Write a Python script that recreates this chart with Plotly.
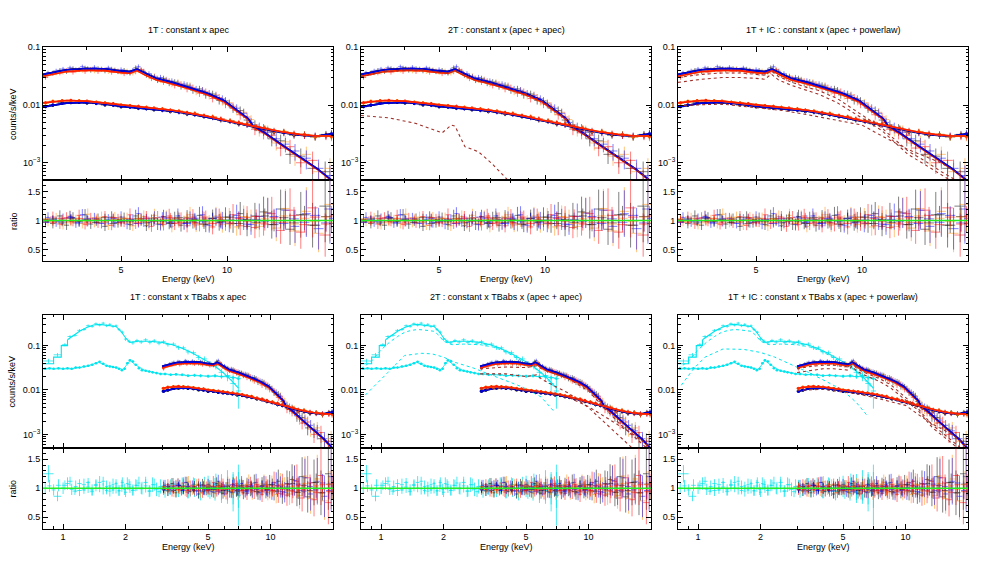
import math
import plotly.graph_objects as go

# ---------------- data ----------------
# NuSTAR-like upper spectrum, two binnings
EA = [3.05, 3.2, 3.35, 3.5, 3.65, 3.8, 3.95, 4.1, 4.3, 4.5, 4.7, 4.9, 5.1, 5.3, 5.5, 5.7, 5.9, 6.1, 6.35, 6.6,
      6.85, 7.1, 7.4, 7.7, 8.0, 8.35, 8.7, 9.1, 9.5, 9.9, 10.4, 10.9, 11.4, 12.0, 12.7, 13.4, 14.2, 15.1, 16.2, 17.5, 19.0]
EB = [3.1, 3.27, 3.42, 3.58, 3.72, 3.88, 4.02, 4.2, 4.4, 4.6, 4.8, 5.0, 5.2, 5.4, 5.6, 5.8, 6.0, 6.22, 6.47, 6.72,
      6.97, 7.25, 7.55, 7.85, 8.17, 8.52, 8.9, 9.3, 9.7, 10.15, 10.65, 11.15, 11.7, 12.35, 13.05, 13.8, 14.65, 15.6, 16.8, 18.2, 19.6]
XW_UP = [0.05, 0.06, 0.06, 0.06, 0.06, 0.06, 0.06, 0.07, 0.08, 0.08, 0.08, 0.08, 0.08, 0.08, 0.08, 0.08, 0.08, 0.09, 0.1, 0.1,
         0.1, 0.12, 0.12, 0.12, 0.14, 0.15, 0.16, 0.17, 0.18, 0.2, 0.22, 0.24, 0.25, 0.3, 0.32, 0.35, 0.4, 0.45, 0.5, 0.6, 0.7]
FRAC_UP = [0.09, 0.09, 0.09, 0.09, 0.09, 0.09, 0.09, 0.09, 0.09, 0.09, 0.095, 0.095, 0.095, 0.1, 0.1, 0.1, 0.1, 0.105, 0.11, 0.11,
           0.115, 0.12, 0.12, 0.125, 0.13, 0.135, 0.14, 0.145, 0.15, 0.16, 0.17, 0.18, 0.19, 0.21, 0.23, 0.26, 0.28, 0.32, 0.36, 0.42, 0.5]
UP_BLACK = [0.032, 0.036, 0.040, 0.038, 0.043, 0.041, 0.044, 0.040, 0.043, 0.039, 0.042, 0.038, 0.040, 0.036, 0.044, 0.040, 0.033, 0.032, 0.027, 0.029,
            0.024, 0.025, 0.021, 0.022, 0.018, 0.019, 0.015, 0.0155, 0.012, 0.0118, 0.0088, 0.0080, 0.0055, 0.0045, 0.0038, 0.0026, 0.0024, 0.0014, 0.0013, 0.0008, 0.0007]
UP_RED = [0.030, 0.035, 0.036, 0.040, 0.037, 0.041, 0.038, 0.042, 0.038, 0.041, 0.037, 0.039, 0.035, 0.037, 0.038, 0.041, 0.034, 0.029, 0.029, 0.025,
          0.026, 0.022, 0.023, 0.019, 0.020, 0.016, 0.017, 0.013, 0.0135, 0.0105, 0.0095, 0.0068, 0.0062, 0.0038, 0.0033, 0.0030, 0.0018, 0.0019, 0.0010, 0.0011, 0.0005]
UP_BLUE = [0.036, 0.039, 0.042, 0.044, 0.041, 0.046, 0.043, 0.045, 0.041, 0.044, 0.040, 0.041, 0.037, 0.040, 0.046, 0.038, 0.035, 0.031, 0.030, 0.027,
           0.026, 0.024, 0.023, 0.021, 0.019, 0.018, 0.016, 0.0145, 0.0128, 0.0105, 0.0088, 0.0072, 0.0050, 0.0041, 0.0034, 0.0026, 0.0021, 0.0016, 0.0012, 0.0008, 0.0006]
UP_ORANGE = [0.033, 0.036, 0.037, 0.041, 0.039, 0.040, 0.042, 0.039, 0.043, 0.038, 0.041, 0.037, 0.039, 0.036, 0.040, 0.039, 0.031, 0.032, 0.027, 0.028,
             0.023, 0.025, 0.021, 0.022, 0.017, 0.018, 0.0145, 0.015, 0.0115, 0.011, 0.0080, 0.0075, 0.0056, 0.0036, 0.0036, 0.0022, 0.0023, 0.0013, 0.0014, 0.0007, 0.0008]
R_UP_BLACK = [1.02, 0.95, 1.08, 0.92, 1.05, 0.98, 1.10, 0.94, 1.03, 0.90, 1.06, 0.97, 1.04, 0.93, 1.08, 1.01, 0.91, 1.00, 0.94, 1.07,
              0.96, 1.03, 0.92, 1.05, 0.99, 1.09, 0.93, 1.04, 0.97, 1.06, 0.95, 1.12, 0.90, 1.08, 1.15, 0.93, 1.20, 0.85, 1.10, 0.92, 1.25]
R_UP_RED = [0.97, 1.06, 0.94, 1.05, 0.99, 1.09, 0.93, 1.04, 0.96, 1.07, 0.92, 1.02, 0.98, 1.10, 0.95, 1.03, 1.06, 0.90, 1.05, 0.93,
            1.08, 0.95, 1.02, 0.91, 1.06, 0.94, 1.03, 0.89, 1.05, 0.98, 1.10, 0.91, 1.05, 0.88, 0.96, 1.12, 0.83, 1.18, 0.80, 1.22, 0.75]
R_UP_BLUE = [1.05, 0.98, 1.03, 1.07, 0.96, 1.10, 0.99, 1.04, 0.95, 1.02, 0.97, 1.06, 0.94, 1.01, 1.12, 0.99, 0.97, 1.05, 0.93, 1.04,
             0.98, 1.08, 0.95, 1.03, 0.96, 1.10, 0.92, 1.06, 1.00, 0.95, 1.09, 1.02, 0.93, 1.07, 1.13, 0.96, 1.18, 0.90, 1.12, 0.86, 1.20]
R_UP_ORANGE = [0.99, 1.04, 0.93, 1.08, 1.01, 0.95, 1.11, 0.97, 1.06, 0.92, 1.05, 0.98, 1.04, 0.91, 1.02, 1.07, 0.94, 1.09, 0.95, 1.06,
               0.90, 1.04, 0.97, 1.10, 0.92, 1.03, 0.96, 1.08, 0.93, 1.05, 0.89, 1.07, 1.00, 0.90, 1.14, 0.87, 1.21, 0.82, 1.16, 0.78, 1.28]

# lower (background-like) spectrum
ELO = [3.05, 3.2, 3.4, 3.6, 3.8, 4.0, 4.25, 4.5, 4.75, 5.0, 5.3, 5.6, 5.9, 6.2, 6.55, 6.9, 7.3, 7.7, 8.1, 8.6,
       9.1, 9.6, 10.2, 10.8, 11.4, 12.1, 12.8, 13.6, 14.5, 15.5, 16.6, 17.8, 19.1, 19.8]
XW_LO = [0.07, 0.08, 0.1, 0.1, 0.1, 0.1, 0.12, 0.12, 0.12, 0.13, 0.15, 0.15, 0.15, 0.16, 0.17, 0.18, 0.2, 0.2, 0.2, 0.25,
         0.25, 0.25, 0.3, 0.3, 0.3, 0.35, 0.35, 0.4, 0.45, 0.5, 0.55, 0.6, 0.6, 0.3]
FRAC_LO = [0.06, 0.06, 0.06, 0.06, 0.06, 0.065, 0.065, 0.065, 0.07, 0.07, 0.07, 0.075, 0.075, 0.08, 0.08, 0.08, 0.085, 0.085, 0.09, 0.09,
           0.095, 0.1, 0.1, 0.105, 0.11, 0.115, 0.12, 0.125, 0.13, 0.135, 0.14, 0.145, 0.15, 0.16]
LO_RED = [0.0110, 0.0115, 0.0119, 0.0121, 0.0118, 0.0117, 0.0112, 0.0108, 0.0106, 0.0099, 0.0097, 0.0095, 0.0091, 0.0089, 0.0085, 0.0082, 0.0078, 0.0074, 0.0071, 0.0066,
          0.0062, 0.0058, 0.0053, 0.0050, 0.0046, 0.0042, 0.0039, 0.0036, 0.0034, 0.0032, 0.0030, 0.0029, 0.0029, 0.0029]
LO_ORANGE = [0.0108, 0.0117, 0.0120, 0.0119, 0.0120, 0.0115, 0.0113, 0.0110, 0.0104, 0.0101, 0.0098, 0.0093, 0.0092, 0.0087, 0.0086, 0.0080, 0.0079, 0.0073, 0.0072, 0.0065,
             0.0063, 0.0057, 0.0054, 0.0049, 0.0047, 0.0041, 0.0040, 0.0035, 0.0035, 0.0031, 0.0031, 0.0028, 0.0030, 0.0028]
LO_BLUE = [0.0093, 0.0101, 0.0108, 0.0112, 0.0111, 0.0110, 0.0106, 0.0102, 0.0099, 0.0094, 0.0092, 0.0089, 0.0086, 0.0084, 0.0081, 0.0078, 0.0075, 0.0071, 0.0068, 0.0064,
           0.0060, 0.0056, 0.0052, 0.0048, 0.0045, 0.0041, 0.0038, 0.0035, 0.0033, 0.0031, 0.0030, 0.0029, 0.0030, 0.0032]
LO_BLACK = [0.0095, 0.0099, 0.0110, 0.0110, 0.0113, 0.0108, 0.0107, 0.0100, 0.0100, 0.0093, 0.0093, 0.0088, 0.0087, 0.0083, 0.0082, 0.0077, 0.0076, 0.0070, 0.0069, 0.0063,
            0.0061, 0.0055, 0.0053, 0.0047, 0.0046, 0.0040, 0.0039, 0.0034, 0.0034, 0.0030, 0.0031, 0.0028, 0.0031, 0.0031]
R_LO_BLACK = [0.98, 1.03, 0.96, 1.04, 0.99, 1.02, 0.97, 1.05, 0.95, 1.01, 0.98, 1.04, 0.96, 1.03, 0.99, 0.95, 1.05, 0.97, 1.02, 0.94,
              1.04, 0.98, 1.06, 0.95, 1.02, 0.97, 1.08, 0.93, 1.05, 0.96, 1.10, 0.92, 1.07, 0.95]
R_LO_RED = [1.02, 0.97, 1.04, 0.98, 1.03, 0.96, 1.02, 0.99, 1.05, 0.96, 1.03, 0.97, 1.04, 0.98, 1.01, 1.05, 0.96, 1.03, 0.97, 1.06,
            0.95, 1.02, 0.96, 1.04, 0.98, 1.07, 0.94, 1.05, 0.97, 1.09, 0.93, 1.06, 0.94, 1.08]
R_LO_BLUE = [0.97, 1.02, 0.99, 1.05, 0.96, 1.03, 1.00, 0.96, 1.04, 0.98, 1.02, 0.95, 1.03, 0.99, 1.06, 0.97, 1.01, 0.95, 1.04, 0.98,
             1.03, 0.96, 1.01, 1.05, 0.94, 1.02, 0.99, 1.07, 0.95, 1.03, 0.97, 1.09, 0.96, 1.04]
R_LO_ORANGE = [1.03, 0.98, 1.01, 0.96, 1.04, 0.99, 1.05, 0.97, 1.02, 1.04, 0.96, 1.03, 0.98, 1.05, 0.96, 1.02, 0.99, 1.06, 0.95, 1.01,
               0.98, 1.05, 0.94, 1.00, 1.06, 0.95, 1.03, 0.97, 1.08, 0.94, 1.04, 0.98, 1.06, 0.97]

# folded models
EM = [3.0, 3.2, 3.5, 4.0, 4.5, 5.0, 5.3, 5.55, 5.8, 6.3, 7.0, 7.8, 8.8, 9.8, 10.4, 11.1, 11.5, 11.85, 12.9, 14.4, 16.1, 18.0, 20.0]
UP_MODEL_B = [0.034, 0.037, 0.041, 0.043, 0.0425, 0.039, 0.038, 0.042, 0.0365, 0.029, 0.0247, 0.0203, 0.016, 0.012, 0.0092, 0.0069,
              0.0058, 0.0044, 0.0032, 0.0020, 0.00127, 0.0008, 0.00048]
UP_MODEL_R = [0.0315, 0.0345, 0.038, 0.040, 0.0395, 0.0365, 0.0355, 0.0395, 0.034, 0.0272, 0.0232, 0.0191, 0.0151, 0.0114, 0.0088, 0.0066,
              0.0056, 0.0042, 0.0031, 0.00195, 0.00124, 0.00078, 0.00047]
LO_MODEL_R = [0.0109, 0.0114, 0.0120, 0.0117, 0.0109, 0.0100, 0.0097, 0.0095, 0.0092, 0.0087, 0.0081, 0.0073, 0.0064, 0.0055, 0.0051, 0.0047,
              0.0045, 0.0043, 0.0038, 0.0034, 0.0031, 0.0029, 0.0029]
LO_MODEL_B = [0.0093, 0.0099, 0.0108, 0.0111, 0.0104, 0.0095, 0.0092, 0.0090, 0.0088, 0.0083, 0.0078, 0.0071, 0.0062, 0.0054, 0.0050, 0.0046,
              0.0044, 0.0042, 0.0037, 0.0033, 0.0030, 0.0029, 0.0032]

# model components (dotted)
T2_HOT = [0.031, 0.034, 0.038, 0.040, 0.040, 0.037, 0.036, 0.039, 0.0345, 0.0275, 0.0238, 0.0197, 0.0157, 0.0118, 0.0091, 0.0068,
          0.0057, 0.0044, 0.0032, 0.0020, 0.00127, 0.0008, 0.00048]
T2_COOL_E = [3.0, 3.6, 4.3, 5.1, 5.42, 5.55, 5.92, 6.46, 7.05, 7.85, 8.5]
T2_COOL = [0.0066, 0.0060, 0.0048, 0.0033, 0.0045, 0.0043, 0.0019, 0.00156, 0.00098, 0.0005, 0.0003]
P3_E = [3.0, 3.5, 4.0, 4.5, 5.0, 5.3, 5.52, 5.8, 6.3, 7.0, 7.5, 8.5, 10.0, 11.4, 12.0, 13.5, 15.0, 16.8, 18.5, 20.0]
P3_A1 = [0.030, 0.034, 0.036, 0.036, 0.034, 0.033, 0.039, 0.031, 0.025, 0.020, 0.018, 0.013, 0.0067, 0.0040, 0.0030, 0.0016, 0.0011, 0.0007, 0.0005, 0.00036]
P3_A2 = [0.0247, 0.028, 0.030, 0.030, 0.029, 0.028, 0.0344, 0.027, 0.022, 0.0175, 0.0155, 0.011, 0.0059, 0.0036, 0.0027, 0.0014, 0.00095, 0.00062, 0.00044, 0.00032]
P3_L_E = [3.0, 4.0, 5.0, 6.0, 7.0, 8.0, 9.0, 10.0, 11.4, 13.5, 16.8, 19.6]
P3_L = [0.0098, 0.0104, 0.0090, 0.0080, 0.0068, 0.0058, 0.0050, 0.0045, 0.0029, 0.0017, 0.00099, 0.00055]
B2_E = [3.0, 4.0, 5.0, 5.6, 6.0, 7.0, 8.0, 10.0, 12.0, 14.0, 17.0, 20.0]
B2_D1 = [0.030, 0.033, 0.032, 0.035, 0.029, 0.023, 0.018, 0.0095, 0.0038, 0.0018, 0.0008, 0.0004]
B2_D2 = [0.023, 0.023, 0.020, 0.022, 0.017, 0.012, 0.0085, 0.0040, 0.0018, 0.0009, 0.0004, 0.0002]
B2_D3 = [0.0105, 0.0110, 0.0097, 0.0092, 0.0088, 0.0080, 0.0068, 0.0042, 0.0025, 0.0016, 0.0009, 0.0005]

# soft-band (cyan) instrument
EC_M = [0.80, 0.90, 0.98, 1.05, 1.12, 1.2, 1.3, 1.4, 1.5, 1.6, 1.7, 1.8, 1.9, 2.0, 2.1, 2.3, 2.6, 3.0, 3.4, 3.8,
        4.2, 4.6, 5.0, 5.5, 6.0, 6.5, 7.0]
C1_MODEL = [0.039, 0.055, 0.10, 0.135, 0.167, 0.21, 0.256, 0.29, 0.30, 0.29, 0.285, 0.27, 0.21, 0.15, 0.118, 0.125, 0.125, 0.118, 0.103, 0.085,
            0.068, 0.054, 0.043, 0.032, 0.023, 0.016, 0.011]
EC1 = [0.85, 0.94, 1.02, 1.08, 1.14, 1.2, 1.26, 1.32, 1.38, 1.44, 1.5, 1.56, 1.62, 1.68, 1.74, 1.8, 1.86, 1.93, 2.0, 2.08,
       2.17, 2.27, 2.38, 2.5, 2.62, 2.75, 2.9, 3.05, 3.2, 3.4, 3.6, 3.8, 4.0, 4.25, 4.5, 4.8, 5.1, 5.45, 5.8, 6.2, 6.6, 7.0]
C1_DATA = [0.045, 0.062, 0.105, 0.16, 0.17, 0.22, 0.23, 0.28, 0.27, 0.31, 0.29, 0.32, 0.28, 0.30, 0.27, 0.28, 0.23, 0.20, 0.14, 0.125,
           0.115, 0.13, 0.12, 0.135, 0.118, 0.128, 0.113, 0.122, 0.105, 0.108, 0.09, 0.089, 0.072, 0.069, 0.054, 0.050, 0.039, 0.035, 0.025, 0.021, 0.014, 0.0095]
XW_C1 = [0.05, 0.04, 0.03, 0.03, 0.03, 0.03, 0.03, 0.03, 0.03, 0.03, 0.03, 0.03, 0.03, 0.03, 0.03, 0.03, 0.03, 0.035, 0.035, 0.04,
         0.045, 0.05, 0.055, 0.06, 0.06, 0.065, 0.07, 0.075, 0.08, 0.1, 0.1, 0.1, 0.1, 0.12, 0.12, 0.15, 0.15, 0.17, 0.18, 0.2, 0.2, 0.2]
FRAC_C1 = [0.12, 0.1, 0.08, 0.07, 0.07, 0.07, 0.07, 0.07, 0.07, 0.07, 0.07, 0.07, 0.07, 0.07, 0.07, 0.07, 0.08, 0.08, 0.09, 0.09,
           0.09, 0.09, 0.09, 0.09, 0.1, 0.1, 0.1, 0.1, 0.1, 0.1, 0.11, 0.11, 0.12, 0.12, 0.13, 0.14, 0.15, 0.17, 0.2, 0.25, 0.35, 0.6]
R_C1 = [1.25, 0.86, 1.05, 1.12, 0.95, 1.08, 0.97, 1.10, 0.94, 1.06, 1.00, 1.12, 0.96, 1.04, 0.97, 1.08, 0.95, 1.10, 0.93, 1.06,
        0.96, 1.05, 0.99, 1.10, 0.95, 1.06, 0.94, 1.04, 0.96, 1.07, 0.95, 1.04, 0.94, 1.06, 0.95, 1.05, 0.96, 1.07, 0.93, 1.05, 0.92, 0.88]
EC2 = [0.82, 0.86, 0.9, 0.95, 1.0, 1.05, 1.1, 1.15, 1.2, 1.26, 1.32, 1.38, 1.44, 1.5, 1.56, 1.62, 1.68, 1.74, 1.8, 1.86,
       1.92, 1.98, 2.04, 2.1, 2.17, 2.24, 2.32, 2.4, 2.5, 2.6, 2.7, 2.82, 2.95, 3.1, 3.3, 3.5, 3.75, 4.0, 4.3, 4.6,
       5.0, 5.4, 5.8, 6.2, 6.6, 7.0]
C2_DATA = [0.030, 0.031, 0.030, 0.031, 0.030, 0.031, 0.030, 0.032, 0.032, 0.034, 0.035, 0.037, 0.040, 0.043, 0.039, 0.035, 0.034, 0.033, 0.032, 0.030,
           0.028, 0.030, 0.040, 0.047, 0.044, 0.037, 0.031, 0.028, 0.027, 0.026, 0.025, 0.024, 0.023, 0.023, 0.022, 0.0225, 0.022, 0.021, 0.0215, 0.021,
           0.0205, 0.021, 0.020, 0.0205, 0.019, 0.018]
XW_C2 = [0.02, 0.02, 0.02, 0.025, 0.025, 0.025, 0.025, 0.025, 0.03, 0.03, 0.03, 0.03, 0.03, 0.03, 0.03, 0.03, 0.03, 0.03, 0.03, 0.03,
         0.03, 0.03, 0.03, 0.035, 0.035, 0.035, 0.04, 0.045, 0.05, 0.05, 0.05, 0.06, 0.065, 0.08, 0.1, 0.1, 0.12, 0.13, 0.15, 0.15,
         0.2, 0.2, 0.2, 0.2, 0.2, 0.2]
FRAC_C2 = [0.05, 0.05, 0.05, 0.05, 0.05, 0.05, 0.05, 0.05, 0.05, 0.05, 0.05, 0.05, 0.05, 0.05, 0.05, 0.05, 0.05, 0.05, 0.05, 0.05,
           0.05, 0.05, 0.05, 0.05, 0.05, 0.05, 0.05, 0.055, 0.055, 0.055, 0.06, 0.06, 0.06, 0.065, 0.065, 0.07, 0.07, 0.075, 0.08, 0.085,
           0.09, 0.1, 0.11, 0.12, 0.14, 0.16]
R_C2 = [1.00, 1.04, 0.97, 1.05, 1.00, 1.08, 0.98, 1.03, 0.96, 1.06, 1.02, 0.97, 1.05, 1.10, 0.99, 1.03, 0.95, 1.06, 1.01, 0.96,
        1.04, 0.98, 1.08, 1.02, 0.97, 1.05, 1.09, 1.00, 1.04, 0.95, 1.06, 0.98, 1.03, 0.96, 1.02, 0.99, 1.04, 0.97, 1.01, 0.95,
        1.03, 0.98, 1.02, 0.96, 1.00, 0.97]
EC2_M = [0.8, 1.1, 1.3, 1.48, 1.6, 1.8, 1.95, 2.1, 2.25, 2.5, 3.0, 4.0, 5.0, 6.0, 7.0]
C2_MODEL = [0.030, 0.030, 0.034, 0.042, 0.036, 0.032, 0.029, 0.046, 0.036, 0.027, 0.023, 0.0213, 0.0205, 0.020, 0.0185]
CH_E = [0.8, 0.9, 1.0, 1.1, 1.2, 1.3, 1.4, 1.5, 1.6, 1.7, 1.8, 1.9, 2.0, 2.2, 2.5, 3.0, 3.5, 4.0, 4.5, 5.0, 5.5, 6.0, 6.5, 7.0]
CH_VAL = [0.03, 0.045, 0.08, 0.12, 0.16, 0.2, 0.22, 0.23, 0.225, 0.22, 0.21, 0.17, 0.125, 0.105, 0.108, 0.105, 0.092, 0.072, 0.053, 0.040,
          0.031, 0.022, 0.015, 0.0105]
B2_CC_E = [0.84, 0.95, 1.08, 1.3, 1.57, 1.76, 2.0, 2.27, 2.8, 3.29, 4.0, 4.77, 5.9, 6.85]
B2_CC = [0.0077, 0.014, 0.025, 0.06, 0.067, 0.065, 0.055, 0.042, 0.031, 0.023, 0.016, 0.0118, 0.007, 0.0032]
B3_CP_E = [0.83, 0.95, 1.08, 1.32, 1.66, 2.0, 2.34, 2.8, 3.4, 4.1, 4.95, 5.8, 6.6]
B3_CP = [0.0128, 0.03, 0.055, 0.084, 0.082, 0.07, 0.055, 0.038, 0.025, 0.016, 0.01, 0.0052, 0.0025]

TITLES = ["1T : constant x apec", "2T : constant x (apec + apec)", "1T + IC : constant x (apec + powerlaw)",
          "1T : constant x TBabs x apec", "2T : constant x TBabs x (apec + apec)", "1T + IC : constant x TBabs x (apec + powerlaw)"]

# ---------------- figure ----------------
W, H = 981, 566
COLX = [(43, 333), (361, 651), (678, 968)]
ROWY = [((42.7, 176.7), (176.7, 258.3)), ((312.3, 446.7), (446.7, 528.3))]
ERRC = dict(black='rgba(0,0,0,0.5)', red='rgba(255,0,0,0.5)', blue='rgba(0,0,255,0.5)',
            orange='rgba(255,140,0,0.5)', cyan='rgba(0,225,235,0.7)')
SOLID = dict(black='#000000', red='#ff1a00', blue='#0000e0', orange='#ff8c00', cyan='#00e5ee')
DOT = '#a0302a'

fig = go.Figure()


def names(n):
    return ('x' if n == 1 else 'x%d' % n), ('y' if n == 1 else 'y%d' % n)


def add_err(n, E, V, XW, FR, c, msize=None):
    xa, ya = names(n)
    if msize:
        mk = dict(size=msize, color=SOLID[c], line=dict(width=0))
    else:
        mk = dict(size=1, color='rgba(0,0,0,0)', line=dict(width=0))
    fig.add_trace(go.Scatter(
        x=E, y=V, xaxis=xa, yaxis=ya, mode='markers', marker=mk,
        error_x=dict(type='data', array=XW, color=ERRC[c], thickness=1, width=0),
        error_y=dict(type='data', array=[v * f for v, f in zip(V, FR)], color=ERRC[c], thickness=1, width=0),
        showlegend=False, hoverinfo='skip'))


def add_line(n, E, V, c, width=1.6, dash='solid', shape='linear'):
    xa, ya = names(n)
    fig.add_trace(go.Scatter(x=E, y=V, xaxis=xa, yaxis=ya, mode='lines',
                             line=dict(color=c, width=width, dash=dash, shape=shape),
                             showlegend=False, hoverinfo='skip'))


for p in range(6):
    top = p < 3
    ns, nr = 2 * p + 1, 2 * p + 2
    if not top:
        add_err(ns, EC1, C1_DATA, XW_C1, FRAC_C1, 'cyan')
        # coarse low-energy bins drawn as steps, the rest as a smooth curve
        add_line(ns, EC_M[:4], C1_MODEL[:4], SOLID['cyan'], width=1.1, shape='hv')
        add_line(ns, EC_M[3:], C1_MODEL[3:], SOLID['cyan'], width=1.1)
        add_err(ns, EC2, C2_DATA, XW_C2, FRAC_C2, 'cyan', msize=2.5)
        add_line(ns, EC2_M, C2_MODEL, SOLID['cyan'], width=0.8)
        if p == 4:
            add_line(ns, CH_E, CH_VAL, SOLID['cyan'], width=1, dash='dot')
            add_line(ns, B2_CC_E, B2_CC, SOLID['cyan'], width=1, dash='dot')
        if p == 5:
            add_line(ns, CH_E, CH_VAL, SOLID['cyan'], width=1, dash='dot')
            add_line(ns, B3_CP_E, B3_CP, SOLID['cyan'], width=1, dash='dot')
    # upper spectrum data
    add_err(ns, EA, UP_BLACK, XW_UP, FRAC_UP, 'black')
    add_err(ns, EB, UP_ORANGE, XW_UP, FRAC_UP, 'orange')
    add_err(ns, EA, UP_RED, XW_UP, FRAC_UP, 'red')
    add_err(ns, EB, UP_BLUE, XW_UP, FRAC_UP, 'blue')
    # lower spectrum data
    add_err(ns, ELO, LO_BLACK, XW_LO, FRAC_LO, 'black', msize=3)
    add_err(ns, ELO, LO_BLUE, XW_LO, FRAC_LO, 'blue', msize=3)
    add_err(ns, ELO, LO_ORANGE, XW_LO, FRAC_LO, 'orange', msize=3)
    add_err(ns, ELO, LO_RED, XW_LO, FRAC_LO, 'red', msize=3)
    # model curves
    add_line(ns, EM, UP_MODEL_B, SOLID['black'])
    add_line(ns, EM, UP_MODEL_R, SOLID['orange'])
    add_line(ns, EM, UP_MODEL_R, SOLID['red'])
    add_line(ns, EM, UP_MODEL_B, SOLID['blue'])
    add_line(ns, EM, LO_MODEL_B, SOLID['black'])
    add_line(ns, EM, LO_MODEL_B, SOLID['blue'])
    add_line(ns, EM, LO_MODEL_R, SOLID['orange'])
    add_line(ns, EM, LO_MODEL_R, SOLID['red'])
    # components
    if p == 1:
        add_line(ns, EM, T2_HOT, DOT, width=1.1, dash='dot')
        add_line(ns, T2_COOL_E, T2_COOL, DOT, width=1.1, dash='dot')
    if p in (2, 5):
        add_line(ns, P3_E, P3_A1, DOT, width=1.1, dash='dot')
        add_line(ns, P3_E, P3_A2, DOT, width=1.1, dash='dot')
        add_line(ns, P3_L_E, P3_L, DOT, width=1.1, dash='dot')
    if p == 4:
        add_line(ns, B2_E, B2_D1, DOT, width=1.1, dash='dot')
        add_line(ns, B2_E, B2_D2, DOT, width=1.1, dash='dot')
        add_line(ns, B2_E, B2_D3, DOT, width=1.1, dash='dot')
    # ratio panel
    if not top:
        add_err(nr, EC1, R_C1, XW_C1, FRAC_C1, 'cyan')
        add_err(nr, EC2, R_C2, XW_C2, [2 * f for f in FRAC_C2], 'cyan')
    add_err(nr, EA, R_UP_BLACK, XW_UP, FRAC_UP, 'black')
    add_err(nr, EB, R_UP_ORANGE, XW_UP, FRAC_UP, 'orange')
    add_err(nr, EA, R_UP_RED, XW_UP, FRAC_UP, 'red')
    add_err(nr, EB, R_UP_BLUE, XW_UP, FRAC_UP, 'blue')
    add_err(nr, ELO, R_LO_BLACK, XW_LO, FRAC_LO, 'black')
    add_err(nr, ELO, R_LO_BLUE, XW_LO, FRAC_LO, 'blue')
    add_err(nr, ELO, R_LO_ORANGE, XW_LO, FRAC_LO, 'orange')
    add_err(nr, ELO, R_LO_RED, XW_LO, FRAC_LO, 'red')

FONT = 'Liberation Sans, Arial, Helvetica, sans-serif'
base = dict(showline=True, linecolor='black', linewidth=1, mirror='allticks', ticks='inside', ticklen=5,
            tickwidth=1, tickcolor='black', showgrid=False, zeroline=False,
            tickfont=dict(family=FONT, size=9, color='black'))
layout = dict(width=W, height=H, margin=dict(l=0, r=0, t=0, b=0), paper_bgcolor='white', plot_bgcolor='white',
              showlegend=False, font=dict(family=FONT, size=9, color='black'))
annotations = []
shapes = []

SPEC_MINOR = [6e-4, 7e-4, 8e-4, 9e-4, 2e-3, 3e-3, 4e-3, 5e-3, 6e-3, 7e-3, 8e-3, 9e-3,
              0.02, 0.03, 0.04, 0.05, 0.06, 0.07, 0.08, 0.09, 0.2, 0.3, 0.4]
RATIO_MINOR = [0.4, 0.6, 0.7, 0.8, 0.9, 1.1, 1.2, 1.3, 1.4, 1.6]

for p in range(6):
    top = p < 3
    c0, c1 = COLX[p % 3]
    (s0, s1), (r0, r1) = ROWY[0 if top else 1]
    ns, nr = 2 * p + 1, 2 * p + 2
    xdom = [c0 / W, c1 / W]
    if top:
        xr = [math.log10(3), math.log10(20)]
        xt, xtt = [5, 10], ['5', '10']
        xm = [3, 4, 6, 7, 8, 9, 20]
        yr = [math.log10(5e-4), -1]
    else:
        xr = [math.log10(0.8), math.log10(20)]
        xt, xtt = [1, 2, 5, 10], ['1', '2', '5', '10']
        xm = [0.8, 0.9, 3, 4, 6, 7, 8, 9, 20]
        yr = [math.log10(5e-4), math.log10(0.5)]
    kx_s = 'xaxis' if ns == 1 else 'xaxis%d' % ns
    ky_s = 'yaxis' if ns == 1 else 'yaxis%d' % ns
    kx_r = 'xaxis%d' % nr
    ky_r = 'yaxis%d' % nr
    minor_x = dict(ticks='inside', ticklen=2.5, tickvals=xm, tickcolor='black', showgrid=False)
    layout[kx_s] = dict(base, domain=xdom, type='log', range=xr, anchor=names(ns)[1], tickvals=xt, ticktext=xtt,
                        showticklabels=False, minor=minor_x)
    layout[ky_s] = dict(base, domain=[1 - s1 / H, 1 - s0 / H], type='log', range=yr, anchor=names(ns)[0],
                        tickvals=[1e-3, 1e-2, 0.1], ticktext=['10<sup>\u22123</sup>', '0.01', '0.1'],
                        minor=dict(ticks='inside', ticklen=2.5, tickvals=SPEC_MINOR, tickcolor='black', showgrid=False))
    layout[kx_r] = dict(base, domain=xdom, type='log', range=xr, anchor=names(nr)[1], tickvals=xt, ticktext=xtt,
                        minor=minor_x)
    layout[ky_r] = dict(base, domain=[1 - r1 / H, 1 - r0 / H], range=[0.3, 1.7], anchor=names(nr)[0],
                        tickvals=[0.5, 1, 1.5], ticktext=['0.5', '1', '1.5'],
                        minor=dict(ticks='inside', ticklen=2.5, tickvals=RATIO_MINOR, tickcolor='black', showgrid=False))
    shapes.append(dict(type='line', xref='x%d domain' % nr, yref='y%d' % nr, x0=0, x1=1, y0=1, y1=1,
                       line=dict(color='#22ee22', width=1.5), layer='above'))
    cx = (c0 + c1) / 2 / W
    annotations.append(dict(text=TITLES[p], x=cx, y=1 - (25 if top else 295) / H, xref='paper', yref='paper',
                            showarrow=False, xanchor='center', yanchor='middle', font=dict(family=FONT, size=9)))
    annotations.append(dict(text='Energy (keV)', x=cx, y=1 - (276 if top else 546.5) / H, xref='paper', yref='paper',
                            showarrow=False, xanchor='center', yanchor='middle', font=dict(family=FONT, size=9)))

for row in range(2):
    (s0, s1), (r0, r1) = ROWY[row]
    annotations.append(dict(text='counts/s/keV', x=12.3 / W, y=1 - (s0 + s1) / 2 / H, xref='paper', yref='paper',
                            showarrow=False, textangle=-90, xanchor='center', yanchor='middle', font=dict(family=FONT, size=9)))
    annotations.append(dict(text='ratio', x=13.3 / W, y=1 - (r0 + r1) / 2 / H, xref='paper', yref='paper',
                            showarrow=False, textangle=-90, xanchor='center', yanchor='middle', font=dict(family=FONT, size=9)))

layout['annotations'] = annotations
layout['shapes'] = shapes
fig.update_layout(**layout)
fig.write_html('out.html', config={'displayModeBar': False},
               post_script="document.body.style.margin='0';document.body.style.padding='0';")
